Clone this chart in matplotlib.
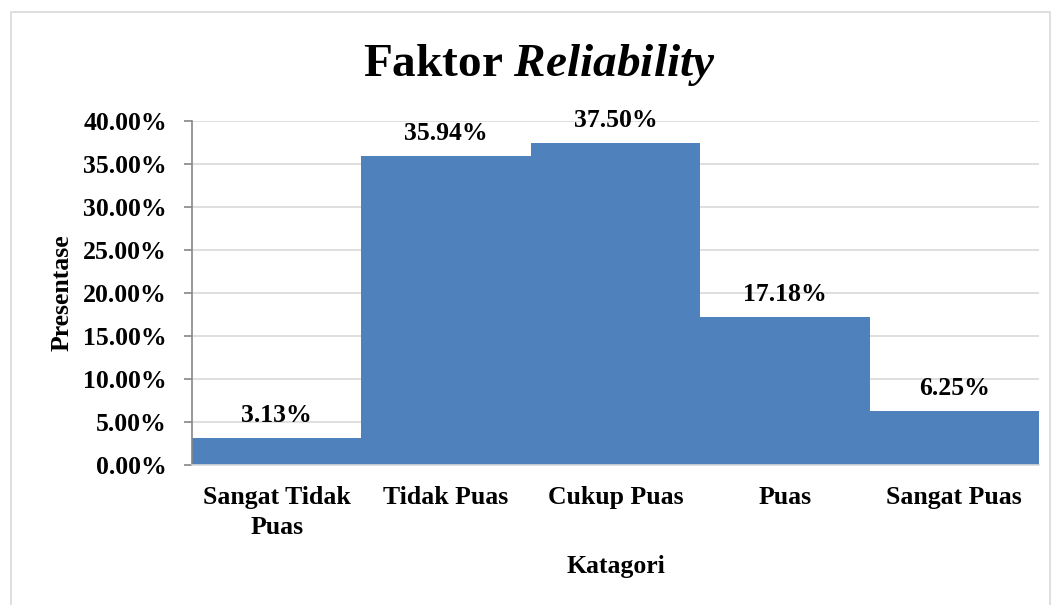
import matplotlib.pyplot as plt
from matplotlib.patches import Rectangle
from matplotlib.ticker import FuncFormatter

kategori = ['Sangat Tidak\nPuas', 'Tidak Puas', 'Cukup Puas', 'Puas', 'Sangat Puas']
persen = [3.13, 35.94, 37.50, 17.18, 6.25]
label_bar = ['3.13%', '35.94%', '37.50%', '17.18%', '6.25%']
yticks = [0, 5, 10, 15, 20, 25, 30, 35, 40]

plt.rcParams['font.family'] = ['Liberation Serif', 'DejaVu Serif']
plt.rcParams['font.weight'] = 'bold'
plt.rcParams['mathtext.fontset'] = 'custom'
plt.rcParams['mathtext.bf'] = 'Liberation Serif:italic:bold'

fig = plt.figure(figsize=(10.53, 6.05), dpi=100)
# bingkai chart
fig.patches.append(Rectangle((11/1053, -0.01), 1039/1053, 1 - 12/605 + 0.01,
                             transform=fig.transFigure, fill=False,
                             edgecolor='#D9D9D9', linewidth=1.2))

ax = fig.add_axes([192/1053, 1 - 465/605, 847/1053, 344/605])
x = range(len(kategori))
ax.bar(x, persen, width=1.0, color='#4F81BD', zorder=2)
ax.set_xlim(-0.5, 4.5)
ax.set_ylim(0, 40)
ax.set_yticks(yticks)
ax.yaxis.set_major_formatter(FuncFormatter(lambda v, p: '%.2f%%' % v))
ax.grid(axis='y', color='#D9D9D9', linewidth=1.2, zorder=0)
ax.set_xticks(list(x))
ax.set_xticklabels(kategori, linespacing=1.4)
ax.tick_params(axis='x', length=0, pad=15, labelsize=18.5)
ax.tick_params(axis='y', length=6, width=1.2, color='#868686', pad=12, labelsize=18.5)
for s in ['top', 'right']:
    ax.spines[s].set_visible(False)
ax.spines['left'].set_color('#868686')
ax.spines['bottom'].set_color('#D9D9D9')
ax.spines['left'].set_linewidth(1.2)
ax.spines['bottom'].set_linewidth(1.2)

for i, v in enumerate(persen):
    ax.annotate(label_bar[i], (i, v), xytext=(0, 11.5), textcoords='offset points',
                ha='center', va='baseline', fontsize=18.5, fontweight='bold', zorder=3)

fig.text(539/1053, 1 - 65/605, r'Faktor $\mathbf{Reliability}$', ha='center', va='center',
         fontsize=34, fontweight='bold')
fig.text(616/1053, 1 - 567/605, 'Katagori', ha='center', va='center', fontsize=18.5, fontweight='bold')
fig.text(62/1053, 1 - 293/605, 'Presentase', ha='center', va='center', rotation=90,
         fontsize=18.5, fontweight='bold')

fig.savefig('out.png', dpi=100)
